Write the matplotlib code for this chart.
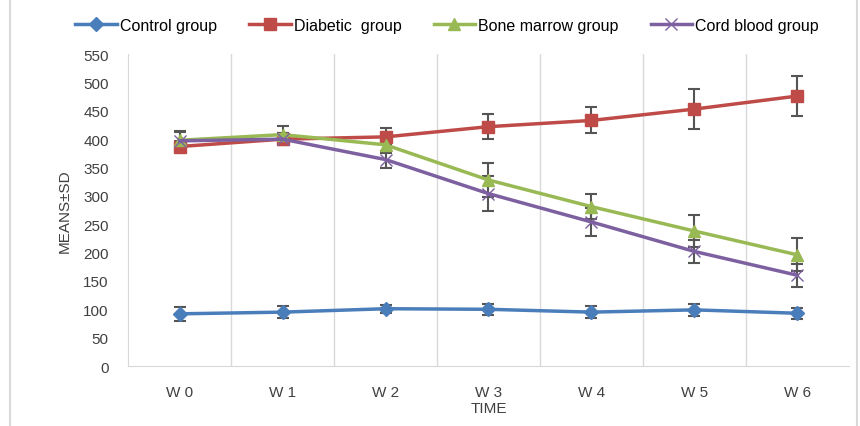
import matplotlib.pyplot as plt
from matplotlib.patches import Rectangle

weeks = ["W 0", "W 1", "W 2", "W 3", "W 4", "W 5", "W 6"]

control = [92, 95, 101, 100, 95, 99, 93]
control_sd = [12, 10, 7, 10, 11, 10, 10]
diabetic = [387, 400, 404, 422, 433, 453, 476]
diabetic_sd = [10, 10, 15, 22, 23, 35, 35]
bone_marrow = [398, 408, 390, 328, 281, 238, 196]
bone_marrow_sd = [15, 15, 15, 30, 22, 29, 29]
cord_blood = [397, 400, 364, 304, 254, 202, 160]
cord_blood_sd = [17, 10, 15, 31, 25, 20, 20]

plt.rcParams['font.family'] = ['Liberation Sans', 'DejaVu Sans']

fig = plt.figure(figsize=(8.6, 4.27), dpi=100)
ax = fig.add_axes([0.149, 0.1405, 0.838, 0.7305])

x = list(range(len(weeks)))
series = [
    ("Control group", control, control_sd, "#4a7ebb", "D", 7),
    ("Diabetic  group", diabetic, diabetic_sd, "#be4b48", "s", 8),
    ("Bone marrow group", bone_marrow, bone_marrow_sd, "#98b954", "^", 8),
    ("Cord blood group", cord_blood, cord_blood_sd, "#7d60a0", "x", 9),
]
for name, vals, sd, col, mk, ms in series:
    ax.errorbar(x, vals, yerr=sd, fmt='none', ecolor='#555555', elinewidth=1.5,
                capsize=4, capthick=1.5, zorder=2)
    ax.plot(x, vals, color=col, marker=mk, markersize=ms, linewidth=2.5,
            markeredgecolor=col, markeredgewidth=1, label=name, zorder=3)

ax.set_xlim(-0.5, len(weeks) - 0.5)
ax.set_ylim(0, 550)
ax.set_yticks(range(0, 551, 50))
ax.set_xticks(x)
ax.set_xticklabels(weeks)
for b in range(1, len(weeks)):
    ax.axvline(b - 0.5, color='#d9d9d9', linewidth=1, zorder=0)
ax.tick_params(length=0, labelsize=11, colors='#404040')
ax.tick_params(axis='x', pad=14)
ax.tick_params(axis='y', pad=14)
for s in ['top', 'right']:
    ax.spines[s].set_visible(False)
for s in ['left', 'bottom']:
    ax.spines[s].set_color('#d9d9d9')
ax.set_xlabel("TIME", fontsize=11, color='#404040', labelpad=1)
ax.set_ylabel("MEANS±SD", fontsize=11, color='#404040', labelpad=8)

fig.legend(loc='upper center', bbox_to_anchor=(0.52, 0.99), ncol=4, frameon=False,
           fontsize=11.5, handlelength=2.6, columnspacing=2.0, handletextpad=0.2)

fig.patches.append(Rectangle((0.012, -0.01), 0.985, 1.02, transform=fig.transFigure,
                             fill=False, edgecolor='#d9d9d9', linewidth=1.5))

fig.savefig("out.png", dpi=100)
